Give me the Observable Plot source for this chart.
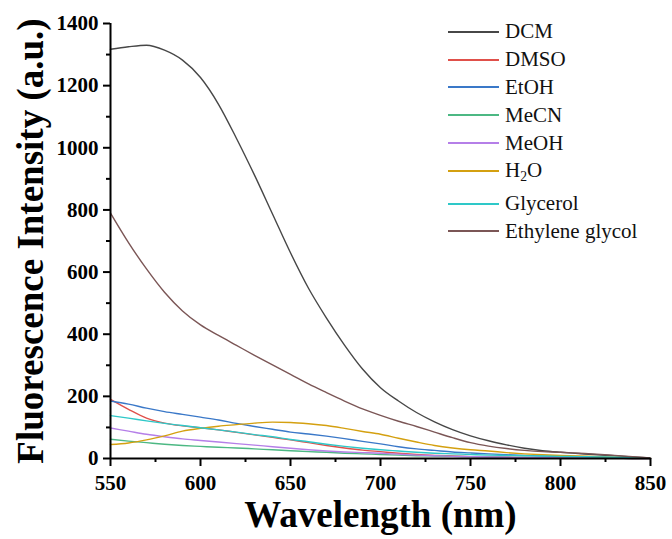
<!DOCTYPE html>
<html>
<head>
<meta charset="utf-8">
<script src="https://cdn.jsdelivr.net/npm/d3@7"></script>
<script src="https://cdn.jsdelivr.net/npm/@observablehq/plot@0.6"></script>
<style>
  html, body { margin: 0; padding: 0; background: #fff; }
  #wrap { position: relative; width: 672px; height: 539px; }
  #wrap svg text { font-family: "Liberation Serif", "Times New Roman", serif; }
  #legend { position: absolute; left: 448px; top: 18px; font-family: "Liberation Serif", "Times New Roman", serif; font-size: 21px; color: #111; }
  .row { display: flex; align-items: center; height: 27.8px; white-space: nowrap; }
  .row svg { margin-right: 6px; }
  .row sub { font-size: 0.65em; vertical-align: -0.3em; line-height: 0; }
</style>
</head>
<body>
<div id="wrap"><div id="legend"></div></div>
<script>
const wavelength = [550,560,570,580,590,600,610,620,630,640,650,660,670,680,690,700,710,720,730,740,750,760,770,780,790,800,810,820,830,840,850];

const seriesNames = ["DCM", "DMSO", "EtOH", "MeCN", "MeOH", "H2O", "Glycerol", "Ethylene glycol"];
const seriesColors = ["#474747", "#e0504a", "#3a78c8", "#4cb883", "#b57fe8", "#d4a010", "#2ec8c8", "#7b5656"];

const dcm =            [1317,1325,1330,1314,1282,1226,1140,1030,912,787,662,548,452,365,288,228,185,148,118,93,73,57,44,33,25,20,16,12,9,5,2];
const dmso =           [190,158,130,114,105,99,92,84,76,68,60,51,42,34,27,22,17,13,10,8,6,5,4,3,2,2,1,1,1,0,0];
const etoh =           [185,175,162,151,142,133,124,113,103,94,85,79,72,64,55,47,38,31,26,21,18,15,12,10,8,7,6,4,3,2,1];
const mecn =           [62,56,51,46,42,39,36,34,31,28,25,22,20,17,15,13,11,9,8,7,6,5,4,3,3,2,2,1,1,0,0];
const meoh =           [98,88,78,70,63,58,53,48,43,38,33,28,24,21,19,17,14,11,9,7,6,5,4,3,3,2,2,1,1,0,0];
const h2o =            [45,50,60,73,88,97,104,109,114,117,116,112,106,97,87,78,65,53,42,34,28,24,19,15,12,10,8,6,4,2,1];
const glycerol =       [138,130,121,113,106,99,92,85,77,70,61,54,46,39,33,28,24,20,17,15,13,11,10,9,8,7,6,5,4,2,1];
const ethyleneGlycol = [790,695,610,535,475,430,396,364,332,301,271,240,212,185,160,139,120,103,85,67,51,40,32,26,22,20,17,14,10,6,2];

const yTicks = [0,200,400,600,800,1000,1200,1400];
const yMinor = [100,300,500,700,900,1100,1300];
const xTicks = [550,600,650,700,750,800,850];
const xMinor = [575,625,675,725,775,825];

const allSeries = [dcm, dmso, etoh, mecn, meoh, h2o, glycerol, ethyleneGlycol];
const rows = [];
allSeries.forEach((vals, i) => {
  vals.forEach((v, j) => rows.push({series: seriesNames[i], wl: wavelength[j], v}));
});

const font = "Liberation Serif";

const chart = Plot.plot({
  width: 672,
  height: 539,
  marginLeft: 110,
  marginRight: 22,
  marginTop: 23,
  marginBottom: 81,
  style: {fontFamily: font, fontSize: "21px", fontWeight: "bold", background: "white", color: "#000"},
  x: {domain: [550, 850]},
  y: {domain: [0, 1400]},
  color: {domain: seriesNames, range: seriesColors},
  marks: [
    Plot.line(rows, {x: "wl", y: "v", z: "series", stroke: "series", strokeWidth: 1.4, curve: "monotone-x"}),
    Plot.axisY({ticks: yTicks, tickSize: 7, tickPadding: 5, tickFormat: d => String(d), strokeWidth: 2, label: null, fontSize: 21, fontWeight: "bold", fontFamily: font}),
    Plot.axisY({ticks: yMinor, tickSize: 4, tickFormat: () => "", strokeWidth: 2, label: null}),
    Plot.axisX({ticks: xTicks, tickSize: 8, tickPadding: 9, tickFormat: d => String(d), strokeWidth: 2, label: null, fontSize: 21, fontWeight: "bold", fontFamily: font}),
    Plot.axisX({ticks: xMinor, tickSize: 4, tickFormat: () => "", strokeWidth: 2, label: null}),
    Plot.ruleX([550], {strokeWidth: 2, stroke: "#000"}),
    Plot.ruleY([0], {strokeWidth: 2, stroke: "#000"}),
    Plot.text(["Wavelength (nm)"], {frameAnchor: "bottom", lineAnchor: "middle", textAnchor: "middle", dy: 57, fontSize: 37, fontWeight: "bold", fontFamily: font, fill: "#000"}),
    Plot.text(["Fluorescence Intensity (a.u.)"], {frameAnchor: "left", lineAnchor: "middle", textAnchor: "middle", dx: -79, rotate: -90, fontSize: 37, fontWeight: "bold", fontFamily: font, fill: "#000"})
  ]
});
document.getElementById("wrap").prepend(chart);

const legend = document.getElementById("legend");
seriesNames.forEach((name, i) => {
  const row = document.createElement("div");
  row.className = "row";
  if (name === "Glycerol") row.style.marginTop = "5px";
  const label = name === "H2O" ? "H<sub>2</sub>O" : name;
  row.innerHTML = `<svg width="51" height="4"><line x1="0" x2="51" y1="2" y2="2" stroke="${seriesColors[i]}" stroke-width="2"/></svg><span>${label}</span>`;
  legend.appendChild(row);
});
</script>
</body>
</html>
